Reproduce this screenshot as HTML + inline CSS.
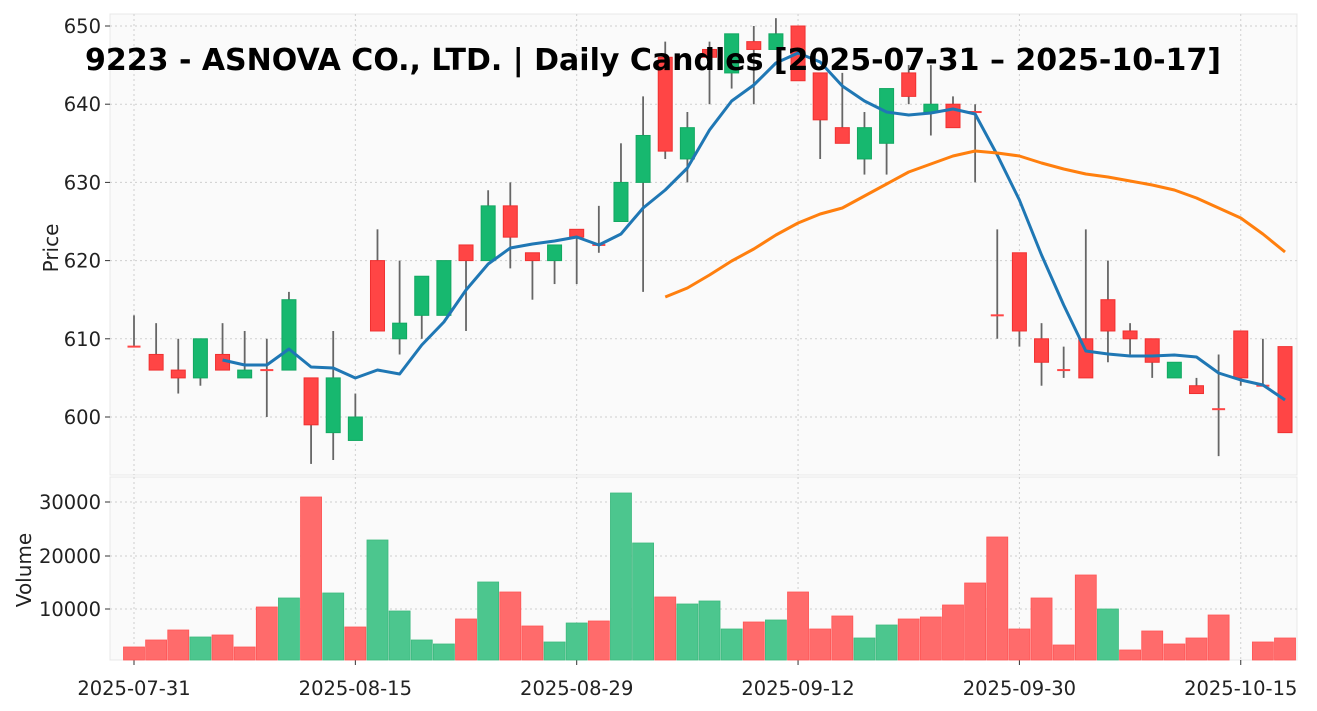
<!DOCTYPE html>
<html><head><meta charset="utf-8"><style>
body{margin:0;background:#fff;}
svg{display:block;font-family:"DejaVu Sans","Liberation Sans",sans-serif;}
</style></head><body>
<svg id="s" width="1317" height="711" xmlns="http://www.w3.org/2000/svg">
<rect x="0" y="0" width="1317" height="711" fill="#fff"/>
<rect x="110" y="14" width="1187" height="461" fill="#fafafa" stroke="#e8e8e8"/>
<rect x="110" y="477" width="1187" height="183" fill="#fafafa" stroke="#e8e8e8"/>
<g id="g"></g>
<text x="653" y="70" font-size="30" font-weight="bold" text-anchor="middle" fill="#000" textLength="1136" lengthAdjust="spacingAndGlyphs">9223 - ASNOVA CO., LTD. | Daily Candles [2025-07-31 – 2025-10-17]</text>
<text transform="translate(58,248) rotate(-90)" font-size="20" text-anchor="middle" fill="#222">Price</text>
<text transform="translate(31,570) rotate(-90)" font-size="20" text-anchor="middle" fill="#222">Volume</text>
</svg>
<script>
var C=[[609,613,609,609],[608,612,606,606],[606,610,603,605],[605,610,604,610],[608,612,606,606],[605,611,605,606],[606,610,600,606],[606,616,606,615],[605,605,594,599],[598,611,594.5,605],[597,603,597,600],[620,624,611,611],[610,620,608,612],[613,618,610,618],[613,620,613,620],[622,622,611,620],[620,629,620,627],[627,630,619,623],[621,621,615,620],[620,622,617,622],[624,624,617,623],[622,627,621,622],[625,635,625,630],[630,641,616,636],[646,648,633,634],[633,639,630,637],[647,648,640,646],[644,649,642,649],[648,650,640,647],[647,651,647,649],[650,650,643,643],[644,644,633,638],[637,644,635,635],[633,639,631,637],[635,642,631,642],[644,645,640,641],[639,645,636,640],[640,641,637,637],[639,640,630,639],[613,624,610,613],[621,621,609,611],[610,612,604,607],[606,609,605,606],[610,624,605,605],[615,620,607,611],[611,612,608,610],[610,610,605,607],[605,607,605,607],[604,605,603,603],[601,608,595,601],[611,611,604,605],[604,610,604,604],[609,609,598,598]];
var V=[[647,0],[640,0],[630,0],[637,1],[635,0],[647,0],[607,0],[598,1],[497,0],[593,1],[627,0],[540,1],[611,1],[640,1],[644,1],[619,0],[582,1],[592,0],[626,0],[642,1],[623,1],[621,0],[493,1],[543,1],[597,0],[604,1],[601,1],[629,1],[622,0],[620,1],[592,0],[629,0],[616,0],[638,1],[625,1],[619,0],[617,0],[605,0],[583,0],[537,0],[629,0],[598,0],[645,0],[575,0],[609,1],[650,0],[631,0],[644,0],[638,0],[615,0],[660,0],[642,0],[638,0]];
var M5=[[4,360],[5,365],[6,365],[7,349],[8,367],[9,368],[10,378],[11,370],[12,374],[13,345],[14,322],[15,290],[16,264],[17,248],[18,244],[19,241],[20,237],[21,245],[22,234],[23,208],[24,190],[25,168],[26,130],[27,101],[28,85],[29,63],[30,53],[31,62],[32,86],[33,101],[34,112],[35,115],[36,113],[37,109],[38,114],[39,155],[40,200],[41,255],[42,305],[43,351],[44,354],[45,356],[46,356],[47,355],[48,357],[49,373],[50,380],[51,385],[52,400]];
var M20=[[24,297],[25,288],[26,275],[27,261],[28,249],[29,235],[30,223],[31,214],[32,208],[33,196],[34,184],[35,172],[36,164],[37,156],[38,151],[39,153],[40,156],[41,163],[42,169],[43,174],[44,177],[45,181],[46,185],[47,190],[48,198],[49,208],[50,218],[51,234],[52,252]];
function X(i){return 134+22.135*i;}
function Y(p){return 26+(650-p)*7.82;}
var h='';
var gs='stroke="#cfcfcf" stroke-dasharray="2,3" stroke-width="1"';
[600,610,620,630,640,650].forEach(function(p){var y=Y(p);h+='<line x1="110" x2="1297" y1="'+y+'" y2="'+y+'" '+gs+'/><line x1="105" x2="110" y1="'+y+'" y2="'+y+'" stroke="#333"/><text x="101" y="'+(y+7)+'" font-size="19.5" text-anchor="end" fill="#222">'+p+'</text>';});
[[10000,609],[20000,556],[30000,502]].forEach(function(a){h+='<line x1="110" x2="1297" y1="'+a[1]+'" y2="'+a[1]+'" '+gs+'/><line x1="105" x2="110" y1="'+a[1]+'" y2="'+a[1]+'" stroke="#333"/><text x="101" y="'+(a[1]+7)+'" font-size="19.5" text-anchor="end" fill="#222">'+a[0]+'</text>';});
var dl=[[0,'2025-07-31'],[10,'2025-08-15'],[20,'2025-08-29'],[30,'2025-09-12'],[40,'2025-09-30'],[50,'2025-10-15']];
dl.forEach(function(d){var x=X(d[0]);h+='<line x1="'+x+'" x2="'+x+'" y1="14" y2="475" '+gs+'/><line x1="'+x+'" x2="'+x+'" y1="477" y2="660" '+gs+'/><line x1="'+x+'" x2="'+x+'" y1="660" y2="665" stroke="#333"/><text x="'+x+'" y="695" font-size="19.5" text-anchor="middle" fill="#222">'+d[1]+'</text>';});
V.forEach(function(v,i){var x=X(i);if(v[0]<660)h+='<rect x="'+(x-10.5)+'" y="'+v[0]+'" width="21" height="'+(660-v[0])+'" fill="'+(v[1]?'#4cc68e':'#ff6b6b')+'" stroke="'+(v[1]?'#3cb97e':'#f55')+'" stroke-width="0.8"/>';});
C.forEach(function(c,i){var x=X(i),o=c[0],hi=c[1],lo=c[2],cl=c[3];var up=cl>o;var col=up?'#17b86f':'#ff4545';var sc=up?'#12a862':'#f03030';
h+='<line x1="'+x+'" x2="'+x+'" y1="'+Y(hi)+'" y2="'+Y(lo)+'" stroke="#666" stroke-width="1.8"/>';
var t=Y(Math.max(o,cl)),b=Y(Math.min(o,cl));
if(b-t<1.5)h+='<rect x="'+(x-6.5)+'" y="'+(t-1)+'" width="13" height="2" fill="'+col+'"/>';
else h+='<rect x="'+(x-7)+'" y="'+t+'" width="14" height="'+(b-t)+'" fill="'+col+'" stroke="'+sc+'" stroke-width="1"/>';});
function pl(a,c){return '<polyline fill="none" stroke="'+c+'" stroke-width="3" stroke-linejoin="round" points="'+a.map(function(p){return X(p[0])+','+p[1];}).join(' ')+'"/>';}
h+=pl(M5,'#1f77b4')+pl(M20,'#ff7f0e');
document.getElementById('g').innerHTML=h;
</script>
</body></html>
